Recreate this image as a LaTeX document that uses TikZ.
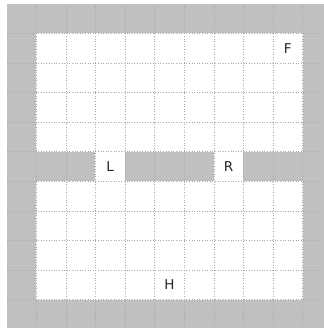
\documentclass[tikz,border=0pt]{standalone}
\usepackage{fontspec}
\setmainfont{DejaVu Sans}
\usepackage{xcolor}
\definecolor{wallgray}{HTML}{C0C0C0}
\definecolor{gridgray}{HTML}{A8A8A8}

\begin{document}
\begin{tikzpicture}[
    gridline/.style={gridgray, line width=0.6pt, dash pattern=on 0.7pt off 1.8pt},
    cell/.style={font=\fontsize{13}{15}\selectfont, text=black!85}]
    \useasboundingbox (-0.226,0.04) rectangle (10.72,11.125);
    % Walls
    \fill[wallgray] (0,0.04) rectangle (10.72,11);
    % Rooms
    \fill[white] (1,6) rectangle (10,10);
    \fill[white] (1,1) rectangle (10,5);
    % Doorways
    \fill[white] (3,5) rectangle (4,6);
    \fill[white] (7,5) rectangle (8,6);
    % Grid
    \draw[gridline] (0.01,0.04) grid (10.72,10.99);
    % Cell labels
    \node[cell] (goal) at (9.5,9.5) {F};
    \node[cell] (left) at (3.5,5.5) {L};
    \node[cell] (right) at (7.5,5.5) {R};
    \node[cell] (home) at (5.5,1.5) {H};
\end{tikzpicture}
\end{document}
